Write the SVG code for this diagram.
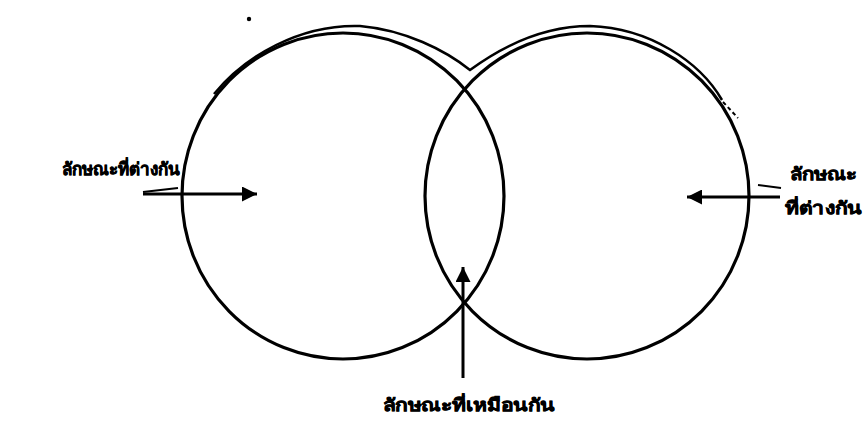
<svg xmlns="http://www.w3.org/2000/svg" width="867" height="422" viewBox="0 0 867 422">
<defs>
<style>
.c{fill:none;stroke:#000;stroke-width:3.2}
.o{fill:none;stroke:#000;stroke-width:2.5}
.a{fill:none;stroke:#000;stroke-width:3}
.t{font-family:"Noto Sans","DejaVu Sans",sans-serif;font-size:17px;font-weight:900;fill:#000;stroke:#000;stroke-width:0.6}
</style>
<marker id="ah2" viewBox="0 0 10 10" refX="10" refY="5" markerWidth="26" markerHeight="15" markerUnits="userSpaceOnUse" orient="auto">
<path d="M0,0 L10,5 L0,10 z" fill="#000"/>
</marker>
</defs>
<rect width="867" height="422" fill="#fff"/>
<g id="left-circle"><ellipse class="c" cx="343" cy="196" rx="161" ry="163"/></g>
<g id="right-circle"><ellipse class="c" cx="587" cy="196" rx="162" ry="163"/></g>
<g id="outline-shadow">
<path class="o" d="M214,94 C245,56 300,24 360,26 C405,30 445,50 470,70 C500,48 540,26 590,26 C650,28 700,62 722,100"/>
<path fill="none" stroke="#000" stroke-width="2" stroke-dasharray="4 3" d="M723,102 L738,118"/>
<circle cx="249" cy="19" r="2.2" fill="#000"/>
</g>
<g id="connectors">
<path class="a" marker-end="url(#ah2)" d="M143,194 L257,194"/>
<path fill="none" stroke="#000" stroke-width="2" d="M143,192 L178,188"/>
<path class="a" marker-end="url(#ah2)" d="M780,197 L687,197"/>
<path fill="none" stroke="#000" stroke-width="2" d="M758,185 L781,188"/>
<path class="a" marker-end="url(#ah2)" d="M463,378 L463,267"/>
</g>
<g id="label-left"><text class="t" x="62" y="175" textLength="118" lengthAdjust="spacingAndGlyphs">ลักษณะที่ต่างกัน</text></g>
<g id="label-right"><text class="t" x="790" y="180" textLength="67" lengthAdjust="spacingAndGlyphs">ลักษณะ</text><text class="t" x="785" y="214" textLength="77" lengthAdjust="spacingAndGlyphs">ที่ต่างกัน</text></g>
<g id="label-bottom"><text class="t" x="383" y="411" textLength="172" lengthAdjust="spacingAndGlyphs">ลักษณะที่เหมือนกัน</text></g>
</svg>
